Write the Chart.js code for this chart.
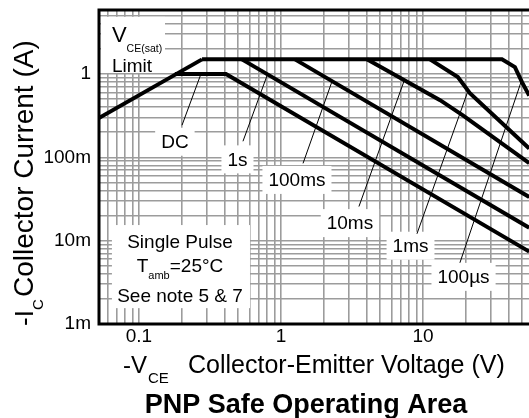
<!DOCTYPE html>
<html>
<head>
<meta charset="utf-8">
<script src="https://cdn.jsdelivr.net/npm/chart.js@4.4.1/dist/chart.umd.min.js"></script>
<style>
html, body { margin: 0; padding: 0; background: #fff; }
#wrap { width: 529px; height: 418px; }
</style>
</head>
<body>
<div id="wrap"><canvas id="soa" width="529" height="418"></canvas></div>
<script>
// -VCE (V) and -IC (A)
const vsatV = [0.05, 0.278];
const vsatI = [0.284, 1.5];
const dcV = [0.179, 0.41, 56];
const dcI = [1, 1, 0.0074];
const s1V = [0.531, 56];
const s1I = [1.5, 0.0143];
const ms100V = [1.255, 56];
const ms100I = [1.5, 0.0335];
const ms10V = [4.03, 13.2, 19.1, 56];
const ms10I = [1.5, 0.486, 0.32, 0.085];
const ms1V = [11.2, 17.6, 21.4, 56];
const ms1I = [1.5, 0.92, 0.59, 0.128];
const us100V = [0.278, 36, 44.4, 49.8, 56];
const us100I = [1.5, 1.5, 1.21, 0.80, 0.55];

// pulse labels and their leader lines
const pulseLabels = ['DC', '1s', '100ms', '10ms', '1ms', '100µs'];
const labelV = [0.179, 0.494, 1.296, 3.06, 8.17, 19.3];
const labelI = [0.154, 0.0946, 0.0536, 0.01625, 0.0087, 0.00368];
const leaderFromV = [0.201, 0.54, 1.43, 3.54, 9.07, 18.2];
const leaderFromI = [0.243, 0.156, 0.0847, 0.0257, 0.0121, 0.00543];
const leaderToV = [0.273, 0.8, 2.29, 7.35, 20.7, 49];
const leaderToI = [1, 0.97, 0.82, 0.82, 0.62, 0.8];

// axes
const xTickVals = [0.1, 1, 10];
const xTickText = ['0.1', '1', '10'];
const yTickVals = [0.001, 0.01, 0.1, 1];
const yTickText = ['1m', '10m', '100m', '1'];
const xMin = 0.0523, xMax = 55.8;
const yMin = 0.001, yMax = 5.87;

const FONT = '"Liberation Sans", Arial, Helvetica, sans-serif';
const font = (size, bold) => (bold ? 'bold ' : '') + size + 'px ' + FONT;

// 1..9 per decade for the log grid
const logGrid = (lo, hi) => {
    const out = [];
    for (let d = Math.floor(Math.log10(lo)); d <= Math.ceil(Math.log10(hi)); d++) {
        for (let m = 1; m < 10; m++) {
            const v = m * Math.pow(10, d);
            if (v > lo * 1.001 && v < hi * 0.999) out.push(v);
        }
    }
    return out;
};

const labelFor = (vals, texts) => (value) => {
    const i = vals.findIndex(v => Math.abs(value / v - 1) < 1e-6);
    return i >= 0 ? texts[i] : '';
};

const pts = (xs, ys) => xs.map((x, i) => ({ x: x, y: ys[i] }));
const curve = (xs, ys) => ({
    data: pts(xs, ys),
    showLine: true,
    borderColor: '#000',
    borderWidth: 4,
    pointRadius: 0,
    fill: false,
    tension: 0
});
const leader = (i) => ({
    data: [{ x: leaderFromV[i], y: leaderFromI[i] }, { x: leaderToV[i], y: leaderToI[i] }],
    showLine: true,
    borderColor: '#000',
    borderWidth: 1,
    pointRadius: 0,
    fill: false
});

// draws a line of text made of runs with their own size / baseline shift
const drawRuns = (ctx, x, y, runs, align) => {
    let total = 0;
    runs.forEach(r => { ctx.font = font(r.size); r.w = ctx.measureText(r.t).width; total += r.w; });
    let cx = align === 'center' ? x - total / 2 : x;
    runs.forEach(r => {
        ctx.font = font(r.size);
        ctx.fillText(r.t, cx, y + (r.dy || 0));
        cx += r.w;
    });
};

const annotate = {
    id: 'annotate',
    beforeDatasetsDraw(chart) {
        const { ctx, scales: { x, y } } = chart;
        ctx.save();
        ctx.fillStyle = '#fff';
        ctx.font = font(19);
        pulseLabels.forEach((t, i) => {
            const cx = x.getPixelForValue(labelV[i]);
            const cy = y.getPixelForValue(labelI[i]);
            const w = ctx.measureText(t).width + 12;
            ctx.fillRect(cx - w / 2, cy - 14, w, 28);
        });
        // VCE(sat) Limit box and the note box
        const box = (v0, i0, v1, i1) => {
            const x0 = x.getPixelForValue(v0), y0 = y.getPixelForValue(i0);
            ctx.fillRect(x0, y0, x.getPixelForValue(v1) - x0, y.getPixelForValue(i1) - y0);
        };
        box(0.054, 4.86, 0.1525, 1.03);
        box(0.0645, 0.0154, 0.605, 0.00155);
        ctx.restore();
    },
    afterDatasetsDraw(chart) {
        const { ctx, chartArea: a, scales: { x, y } } = chart;
        ctx.save();
        ctx.fillStyle = '#000';
        ctx.textBaseline = 'middle';
        ctx.textAlign = 'center';
        ctx.font = font(19);
        pulseLabels.forEach((t, i) => {
            ctx.fillText(t, x.getPixelForValue(labelV[i]), y.getPixelForValue(labelI[i]) + 1);
        });

        ctx.textBaseline = 'alphabetic';
        ctx.textAlign = 'left';
        const lx = x.getPixelForValue(0.0645);
        drawRuns(ctx, lx, y.getPixelForValue(2.42), [
            { t: 'V', size: 22 }, { t: 'CE(sat)', size: 10.5, dy: 10 }
        ]);
        drawRuns(ctx, lx, y.getPixelForValue(1.057), [{ t: 'Limit', size: 19 }]);

        const nx = x.getPixelForValue(0.1945);
        drawRuns(ctx, nx, y.getPixelForValue(0.00815), [{ t: 'Single Pulse', size: 19 }], 'center');
        drawRuns(ctx, nx, y.getPixelForValue(0.0042), [
            { t: 'T', size: 19 }, { t: 'amb', size: 11, dy: 7 }, { t: '=25°C', size: 19 }
        ], 'center');
        drawRuns(ctx, nx, y.getPixelForValue(0.00183), [{ t: 'See note 5 & 7', size: 19 }], 'center');

        // frame
        ctx.strokeStyle = '#000';
        ctx.lineWidth = 3;
        ctx.strokeRect(a.left, a.top, a.right - a.left + 6, a.bottom - a.top);
        ctx.restore();
    },
    afterDraw(chart) {
        const { ctx } = chart;
        ctx.save();
        ctx.fillStyle = '#000';
        ctx.textBaseline = 'alphabetic';
        ctx.textAlign = 'left';
        // x axis title
        ctx.font = font(24);
        ctx.fillText('-V', 123, 373);
        ctx.font = font(15);
        ctx.fillText('CE', 148, 383);
        ctx.font = font(25);
        ctx.fillText('Collector-Emitter Voltage (V)', 188, 373);
        // y axis title
        ctx.translate(33, 328);
        ctx.rotate(-Math.PI / 2);
        ctx.font = font(26);
        ctx.fillText('-I', 2, 0);
        ctx.font = font(15);
        ctx.fillText('C', 18, 10);
        ctx.font = font(28);
        ctx.fillText('Collector Current (A)', 31, 0);
        ctx.restore();
        // chart title
        ctx.save();
        ctx.fillStyle = '#000';
        ctx.textAlign = 'center';
        ctx.font = font(27, true);
        ctx.fillText('PNP Safe Operating Area', 306, 413);
        ctx.restore();
    }
};

const datasets = [
    curve(vsatV, vsatI),
    curve(us100V, us100I),
    curve(ms1V, ms1I),
    curve(ms10V, ms10I),
    curve(ms100V, ms100I),
    curve(s1V, s1I),
    curve(dcV, dcI)
];
pulseLabels.forEach((t, i) => datasets.push(leader(i)));

// fixed plot box: no extra room reserved for edge tick labels
const noEdgePad = s => {
    s.paddingTop = 0; s.paddingBottom = 0; s.paddingLeft = 0; s.paddingRight = 0;
};

new Chart(document.getElementById('soa').getContext('2d'), {
    type: 'scatter',
    data: { datasets: datasets },
    options: {
        responsive: false,
        animation: false,
        layout: { padding: { top: 10, left: 0, right: 0, bottom: 0 } },
        plugins: { legend: { display: false }, tooltip: { enabled: false } },
        scales: {
            x: {
                type: 'logarithmic',
                min: xMin,
                max: xMax,
                afterBuildTicks: s => { s.ticks = logGrid(xMin, xMax).map(v => ({ value: v })); },
                afterFit: s => { s.height = 94; noEdgePad(s); },
                border: { display: false },
                grid: { color: '#9c9c9c', lineWidth: 1.6, drawTicks: false },
                ticks: {
                    autoSkip: false, maxRotation: 0, padding: 1, color: '#000',
                    font: { family: FONT, size: 19 },
                    callback: labelFor(xTickVals, xTickText)
                }
            },
            y: {
                type: 'logarithmic',
                min: yMin,
                max: yMax,
                afterBuildTicks: s => { s.ticks = [yMin].concat(logGrid(yMin, yMax)).map(v => ({ value: v })); },
                afterFit: s => { s.width = 99; noEdgePad(s); },
                border: { display: false },
                grid: { color: '#9c9c9c', lineWidth: 1.6, drawTicks: false },
                ticks: {
                    autoSkip: false, padding: 8, color: '#000',
                    font: { family: FONT, size: 19 },
                    callback: labelFor(yTickVals, yTickText)
                }
            }
        }
    },
    plugins: [annotate]
});
</script>
</body>
</html>
